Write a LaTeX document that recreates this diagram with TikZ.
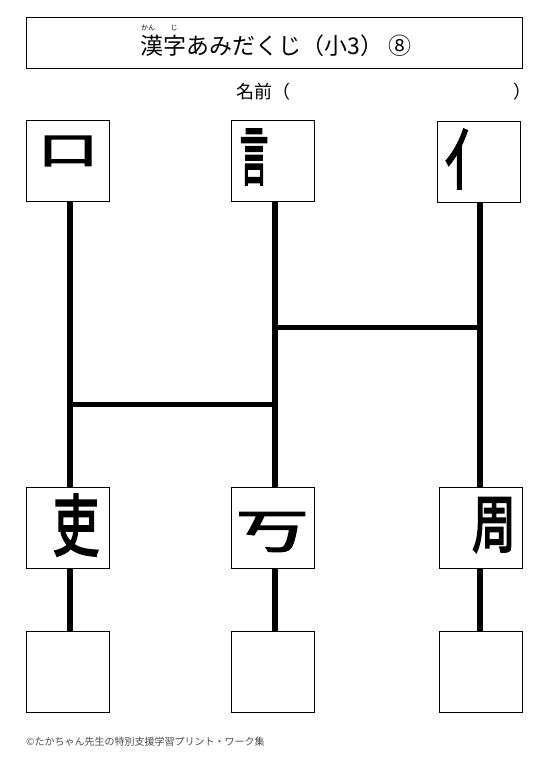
\documentclass[tikz,border=0pt]{standalone}
\usepackage{fontspec}
\newfontfamily\jp{Noto Sans CJK JP}
\newfontfamily\jphand[FakeBold=3.5]{Noto Sans CJK JP}
\begin{document}
\begin{tikzpicture}[x=1pt,y=-1pt,
  box/.style={draw, line width=1pt, minimum width=83pt, minimum height=81pt, inner sep=0pt, anchor=north west},
  rail/.style={line width=6pt},
  rung/.style={line width=5pt},
  kanji/.style={font=\jphand\fontsize{46}{46}\selectfont, inner sep=0pt}]
\useasboundingbox[fill=white] (0,0) rectangle (553,784);
% title
\node[draw, line width=1pt, minimum width=496pt, minimum height=51pt, anchor=north west, inner sep=0pt] (title) at (26,17) {};
\node[font=\jp\fontsize{23}{23}\selectfont, inner sep=0pt] (ttext) at (276,46) {漢字あみだくじ（小3） ⑧};
\node[font=\jp\fontsize{7}{7}\selectfont, inner sep=0pt] (ruby1) at (148,28) {かん};
\node[font=\jp\fontsize{7}{7}\selectfont, inner sep=0pt] (ruby2) at (174,28) {じ};
% name
\node[font=\jp\fontsize{18}{18}\selectfont, inner sep=0pt, anchor=west] (name) at (236,92) {名前（};
\node[font=\jp\fontsize{18}{18}\selectfont, inner sep=0pt, anchor=west] (nameend) at (513,92) {）};
% boxes
\node[box] (t1) at (26,120) {};
\node[box] (t2) at (231,120) {};
\node[box] (t3) at (437,121) {};
\node[box] (m1) at (26,487) {};
\node[box] (m2) at (231,487) {};
\node[box] (m3) at (439,487) {};
\node[box] (b1) at (26,631) {};
\node[box] (b2) at (231,631) {};
\node[box] (b3) at (439,631) {};
% characters
\node[kanji] (k1) at (68,151) {\scalebox{1.3}[0.82]{口}};
\node[kanji] (k2) at (254,157) {\scalebox{0.62}[1.4]{言}};
\node[kanji] (k3) at (468,159) {\scalebox{1}[1.4]{亻}};
\node[kanji] (k4) at (76,525) {\scalebox{1.0}[1.45]{吏}};
\node[kanji] (k5) at (272,532) {\scalebox{1.55}[1.0]{丂}};
\node[kanji] (k6) at (494,525) {\scalebox{0.95}[1.35]{周}};
% rails
\coordinate (c1a) at (70,201);
\coordinate (c2a) at (275,202);
\coordinate (c3a) at (480,202);
\draw[rail] (t1.south -| c1a) -- (m1.north -| c1a);
\draw[rail] (t2.south -| c2a) -- (m2.north -| c2a);
\draw[rail] (t3.south -| c3a) -- (m3.north -| c3a);
\draw[rail] (m1.south -| c1a) -- (b1.north -| c1a);
\draw[rail] (m2.south -| c2a) -- (b2.north -| c2a);
\draw[rail] (m3.south -| c3a) -- (b3.north -| c3a);
% rungs
\coordinate (r1a) at (275,327);
\coordinate (r1b) at (480,327);
\coordinate (r2a) at (70,404);
\coordinate (r2b) at (275,404);
\draw[rung] (r1a) -- (r1b);
\draw[rung] (r2a) -- (r2b);
% footer
\node[font=\jp\fontsize{10}{10}\selectfont, text=black!70, inner sep=0pt, anchor=west] (footer) at (26,742) {©たかちゃん先生の特別支援学習プリント・ワーク集};
\end{tikzpicture}
\end{document}
